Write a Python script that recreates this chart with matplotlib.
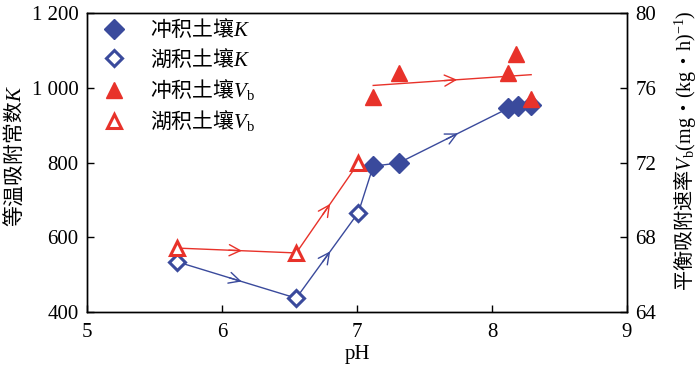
import matplotlib
matplotlib.use("Agg")
import matplotlib.pyplot as plt
import numpy as np
from matplotlib.lines import Line2D

plt.rcParams['font.family'] = ['Liberation Serif', 'Noto Sans CJK SC']
plt.rcParams['mathtext.fontset'] = 'custom'
plt.rcParams['mathtext.rm'] = 'Liberation Serif'
plt.rcParams['mathtext.it'] = 'Liberation Serif:italic'
plt.rcParams['mathtext.sf'] = 'Liberation Serif'

# Data
lake_ph = [5.67, 6.55, 7.01]
lake_K = [534, 437, 666]
lake_Vb = [67.42, 67.16, 71.97]

allu_ph_K = [7.12, 7.31, 8.12, 8.19, 8.29]
allu_K = [790, 799, 945, 950, 955]

allu_ph_V = [7.12, 7.31, 8.12, 8.18, 8.29]
allu_Vb = [75.5, 76.8, 76.8, 77.8, 75.4]

x_ticks = [5, 6, 7, 8, 9]
K_ticks = [400, 600, 800, 1000, 1200]
K_tick_labels = ['400', '600', '800', '1 000', '1 200']
V_ticks = [64, 68, 72, 76, 80]

labels = ['冲积土壤$K$', '湖积土壤$K$', '冲积土壤$V_\\mathrm{b}$', '湖积土壤$V_\\mathrm{b}$']
left_label = '等温吸附常数$K$'
right_label = r'平衡吸附速率$V_\mathrm{b}\mathrm{(mg}$•$\mathrm{(kg}$•$\mathrm{h)}^{-1}\mathrm{)}$'

blue = '#3A4A9C'
red = '#E8322A'
FS = 15
CJK = 'Noto Sans CJK SC'

fig = plt.figure(figsize=(7, 3.78), dpi=100)
ax = fig.add_axes([0.1243, 0.1746, 0.7714, 0.7910])
ax2 = ax.twinx()

def arrow_mid(a, x0, y0, x1, y1, color):
    p0 = a.transData.transform((x0, y0))
    p1 = a.transData.transform((x1, y1))
    mid = (p0 + p1) / 2
    d = (p1 - p0) / np.hypot(*(p1 - p0))
    start = mid - d * 8
    end = mid + d * 5
    inv = a.transData.inverted()
    a.annotate('', xy=inv.transform(end), xytext=inv.transform(start),
               arrowprops=dict(arrowstyle='->,head_length=0.8,head_width=0.4',
                               color=color, lw=1.0, shrinkA=0, shrinkB=0))

ax.set_xlim(5, 9)
ax.set_ylim(400, 1200)
ax2.set_ylim(64, 80)

pathx = lake_ph + allu_ph_K
pathy = lake_K + allu_K
ax.plot(pathx, pathy, '-', color=blue, lw=1.0, zorder=2)
ax.plot(allu_ph_K, allu_K, 'D', color=blue, ms=10, mec=blue, zorder=3)
ax.plot(lake_ph, lake_K, 'D', mfc='white', mec=blue, mew=2.2, ms=8.5, zorder=3)

ax2.plot(lake_ph, lake_Vb, '-', color=red, lw=1.0, zorder=2)
coef = np.polyfit(allu_ph_V, allu_Vb, 1)
fx = np.array([min(allu_ph_V), max(allu_ph_V)])
fy = np.polyval(coef, fx)
ax2.plot(fx, fy, '-', color=red, lw=1.0, zorder=2)
ax2.plot(allu_ph_V, allu_Vb, '^', color=red, ms=11, mec=red, zorder=4)
ax2.plot(lake_ph, lake_Vb, '^', mfc='white', mec=red, mew=2.2, ms=10, zorder=4)

fig.canvas.draw()
for i in range(len(lake_ph) - 1):
    arrow_mid(ax, lake_ph[i], lake_K[i], lake_ph[i+1], lake_K[i+1], blue)
    arrow_mid(ax2, lake_ph[i], lake_Vb[i], lake_ph[i+1], lake_Vb[i+1], red)
arrow_mid(ax, allu_ph_K[1], allu_K[1], allu_ph_K[2], allu_K[2], blue)
arrow_mid(ax2, fx[0], fy[0], fx[1], fy[1], red)

ax.set_xticks(x_ticks)
ax.set_yticks(K_ticks)
ax.set_yticklabels(K_tick_labels)
ax2.set_yticks(V_ticks)
for a in (ax, ax2):
    a.tick_params(direction='in', length=5, width=1.0, labelsize=FS, pad=6)
    for s in a.spines.values():
        s.set_linewidth(1.0)
ax.tick_params(axis='x', pad=8)

ax.set_xlabel('pH', fontsize=FS, labelpad=2)
ax.set_ylabel(left_label, fontsize=FS, family=CJK)
ax.yaxis.set_label_coords(-0.114, 0.52)
ax2.set_ylabel(right_label, fontsize=14.5, family=CJK)
ax2.yaxis.set_label_coords(1.081, 0.54)

handles = [
    Line2D([], [], ls='none', marker='D', color=blue, ms=10),
    Line2D([], [], ls='none', marker='D', mfc='white', mec=blue, mew=2.2, ms=8.5),
    Line2D([], [], ls='none', marker='^', color=red, ms=11),
    Line2D([], [], ls='none', marker='^', mfc='white', mec=red, mew=2.2, ms=10),
]
ax.legend(handles, labels, loc='upper left', bbox_to_anchor=(0.0, 1.035), frameon=False,
          prop=dict(family=CJK, size=FS), handletextpad=1.1, labelspacing=0.3,
          borderaxespad=0.3, handlelength=1.2)

fig.savefig('out.png', dpi=100)
